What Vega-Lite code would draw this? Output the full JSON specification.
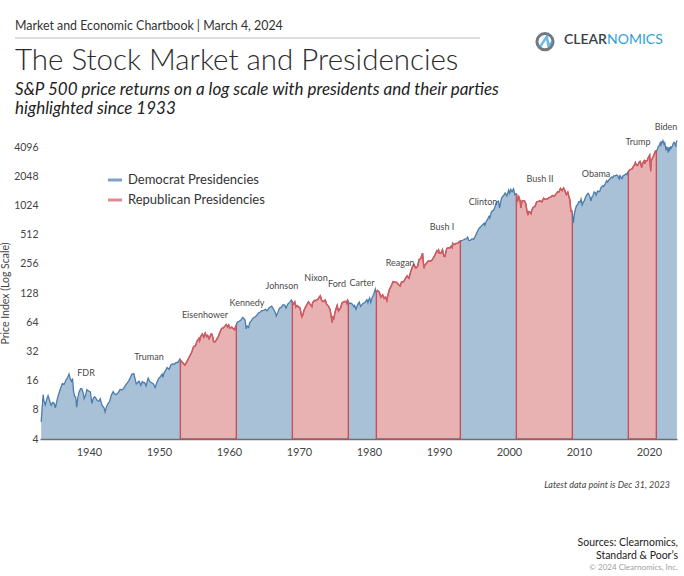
{
  "$schema": "https://vega.github.io/schema/vega-lite/v6.json",
  "width": 637,
  "height": 292,
  "autosize": "none",
  "padding": {"left": 40, "top": 147, "right": 7, "bottom": 137},
  "background": "white",
  "config": {
    "view": {"stroke": null},
    "font": "Lato",
    "text": {"font": "Lato"}
  },
  "datasets": {
    "sp": [
      {"t":1933.17,"v":6.0,"g":1,"p":"D"},{"t":1933.3,"v":8.2,"g":1,"p":"D"},{"t":1933.45,"v":11.5,"g":1,"p":"D"},{"t":1933.55,"v":10.0,"g":1,"p":"D"},{"t":1933.75,"v":9.0,"g":1,"p":"D"},
      {"t":1934.0,"v":10.5,"g":1,"p":"D"},{"t":1934.15,"v":11.2,"g":1,"p":"D"},{"t":1934.4,"v":9.8,"g":1,"p":"D"},{"t":1934.6,"v":8.9,"g":1,"p":"D"},{"t":1934.8,"v":9.5,"g":1,"p":"D"},
      {"t":1935.0,"v":9.4,"g":1,"p":"D"},{"t":1935.2,"v":8.4,"g":1,"p":"D"},{"t":1935.45,"v":10.2,"g":1,"p":"D"},{"t":1935.7,"v":11.8,"g":1,"p":"D"},{"t":1935.95,"v":13.4,"g":1,"p":"D"},
      {"t":1936.2,"v":14.9,"g":1,"p":"D"},{"t":1936.45,"v":14.6,"g":1,"p":"D"},{"t":1936.7,"v":16.2,"g":1,"p":"D"},{"t":1936.95,"v":17.2,"g":1,"p":"D"},
      {"t":1937.15,"v":18.7,"g":1,"p":"D"},{"t":1937.35,"v":16.4,"g":1,"p":"D"},{"t":1937.5,"v":15.7,"g":1,"p":"D"},{"t":1937.65,"v":16.8,"g":1,"p":"D"},{"t":1937.8,"v":12.3,"g":1,"p":"D"},{"t":1937.95,"v":11.0,"g":1,"p":"D"},
      {"t":1938.1,"v":10.8,"g":1,"p":"D"},{"t":1938.25,"v":8.5,"g":1,"p":"D"},{"t":1938.4,"v":10.6,"g":1,"p":"D"},{"t":1938.6,"v":12.3,"g":1,"p":"D"},{"t":1938.8,"v":13.2,"g":1,"p":"D"},{"t":1938.95,"v":13.2,"g":1,"p":"D"},
      {"t":1939.2,"v":11.8,"g":1,"p":"D"},{"t":1939.3,"v":10.4,"g":1,"p":"D"},{"t":1939.5,"v":11.2,"g":1,"p":"D"},{"t":1939.7,"v":12.9,"g":1,"p":"D"},{"t":1939.95,"v":12.5,"g":1,"p":"D"},
      {"t":1940.2,"v":12.2,"g":1,"p":"D"},{"t":1940.4,"v":9.3,"g":1,"p":"D"},{"t":1940.6,"v":10.5,"g":1,"p":"D"},{"t":1940.8,"v":10.9,"g":1,"p":"D"},{"t":1940.95,"v":10.6,"g":1,"p":"D"},
      {"t":1941.2,"v":9.9,"g":1,"p":"D"},{"t":1941.4,"v":9.8,"g":1,"p":"D"},{"t":1941.6,"v":10.4,"g":1,"p":"D"},{"t":1941.8,"v":9.2,"g":1,"p":"D"},{"t":1941.95,"v":8.7,"g":1,"p":"D"},
      {"t":1942.15,"v":8.4,"g":1,"p":"D"},{"t":1942.3,"v":7.6,"g":1,"p":"D"},{"t":1942.5,"v":8.6,"g":1,"p":"D"},{"t":1942.7,"v":9.2,"g":1,"p":"D"},{"t":1942.95,"v":9.8,"g":1,"p":"D"},
      {"t":1943.2,"v":11.4,"g":1,"p":"D"},{"t":1943.45,"v":12.3,"g":1,"p":"D"},{"t":1943.65,"v":11.6,"g":1,"p":"D"},{"t":1943.9,"v":11.5,"g":1,"p":"D"},
      {"t":1944.2,"v":12.1,"g":1,"p":"D"},{"t":1944.45,"v":13.0,"g":1,"p":"D"},{"t":1944.7,"v":12.8,"g":1,"p":"D"},{"t":1944.95,"v":13.3,"g":1,"p":"D"},
      {"t":1945.2,"v":14.3,"g":1,"p":"D"},{"t":1945.45,"v":15.1,"g":1,"p":"D"},{"t":1945.7,"v":16.0,"g":1,"p":"D"},{"t":1945.95,"v":17.4,"g":1,"p":"D"},
      {"t":1946.1,"v":18.6,"g":1,"p":"D"},{"t":1946.4,"v":18.9,"g":1,"p":"D"},{"t":1946.6,"v":16.5,"g":1,"p":"D"},{"t":1946.75,"v":14.8,"g":1,"p":"D"},{"t":1946.95,"v":15.3,"g":1,"p":"D"},
      {"t":1947.15,"v":15.8,"g":1,"p":"D"},{"t":1947.4,"v":14.3,"g":1,"p":"D"},{"t":1947.6,"v":15.6,"g":1,"p":"D"},{"t":1947.8,"v":15.2,"g":1,"p":"D"},{"t":1947.95,"v":15.3,"g":1,"p":"D"},
      {"t":1948.15,"v":14.1,"g":1,"p":"D"},{"t":1948.45,"v":17.0,"g":1,"p":"D"},{"t":1948.7,"v":15.6,"g":1,"p":"D"},{"t":1948.95,"v":15.2,"g":1,"p":"D"},
      {"t":1949.2,"v":14.8,"g":1,"p":"D"},{"t":1949.45,"v":13.6,"g":1,"p":"D"},{"t":1949.7,"v":15.4,"g":1,"p":"D"},{"t":1949.95,"v":16.8,"g":1,"p":"D"},
      {"t":1950.2,"v":17.6,"g":1,"p":"D"},{"t":1950.45,"v":18.7,"g":1,"p":"D"},{"t":1950.55,"v":17.3,"g":1,"p":"D"},{"t":1950.75,"v":19.5,"g":1,"p":"D"},{"t":1950.95,"v":20.4,"g":1,"p":"D"},
      {"t":1951.15,"v":21.8,"g":1,"p":"D"},{"t":1951.45,"v":20.9,"g":1,"p":"D"},{"t":1951.7,"v":23.3,"g":1,"p":"D"},{"t":1951.95,"v":23.8,"g":1,"p":"D"},
      {"t":1952.2,"v":23.6,"g":1,"p":"D"},{"t":1952.45,"v":24.7,"g":1,"p":"D"},{"t":1952.7,"v":24.6,"g":1,"p":"D"},{"t":1952.95,"v":26.6,"g":1,"p":"D"},{"t":1953.05,"v":26.2,"g":1,"p":"D"},

      {"t":1953.05,"v":26.2,"g":2,"p":"R"},{"t":1953.2,"v":25.3,"g":2,"p":"R"},{"t":1953.45,"v":24.2,"g":2,"p":"R"},{"t":1953.7,"v":23.1,"g":2,"p":"R"},{"t":1953.95,"v":24.8,"g":2,"p":"R"},
      {"t":1954.2,"v":26.9,"g":2,"p":"R"},{"t":1954.45,"v":29.2,"g":2,"p":"R"},{"t":1954.7,"v":31.7,"g":2,"p":"R"},{"t":1954.95,"v":35.9,"g":2,"p":"R"},
      {"t":1955.2,"v":36.6,"g":2,"p":"R"},{"t":1955.45,"v":41.0,"g":2,"p":"R"},{"t":1955.7,"v":43.6,"g":2,"p":"R"},{"t":1955.8,"v":41.2,"g":2,"p":"R"},{"t":1955.95,"v":45.5,"g":2,"p":"R"},
      {"t":1956.2,"v":48.5,"g":2,"p":"R"},{"t":1956.4,"v":44.9,"g":2,"p":"R"},{"t":1956.6,"v":49.4,"g":2,"p":"R"},{"t":1956.8,"v":45.6,"g":2,"p":"R"},{"t":1956.95,"v":46.7,"g":2,"p":"R"},
      {"t":1957.15,"v":43.3,"g":2,"p":"R"},{"t":1957.45,"v":48.5,"g":2,"p":"R"},{"t":1957.6,"v":47.9,"g":2,"p":"R"},{"t":1957.8,"v":40.4,"g":2,"p":"R"},{"t":1957.95,"v":39.9,"g":2,"p":"R"},
      {"t":1958.2,"v":42.1,"g":2,"p":"R"},{"t":1958.45,"v":45.2,"g":2,"p":"R"},{"t":1958.7,"v":50.1,"g":2,"p":"R"},{"t":1958.95,"v":55.2,"g":2,"p":"R"},
      {"t":1959.2,"v":56.0,"g":2,"p":"R"},{"t":1959.45,"v":58.6,"g":2,"p":"R"},{"t":1959.6,"v":60.5,"g":2,"p":"R"},{"t":1959.8,"v":57.0,"g":2,"p":"R"},{"t":1959.95,"v":59.9,"g":2,"p":"R"},
      {"t":1960.15,"v":55.6,"g":2,"p":"R"},{"t":1960.4,"v":56.9,"g":2,"p":"R"},{"t":1960.55,"v":55.5,"g":2,"p":"R"},{"t":1960.8,"v":53.4,"g":2,"p":"R"},{"t":1960.95,"v":58.1,"g":2,"p":"R"},{"t":1961.05,"v":59.8,"g":2,"p":"R"},

      {"t":1961.05,"v":59.8,"g":3,"p":"D"},{"t":1961.2,"v":64.3,"g":3,"p":"D"},{"t":1961.45,"v":65.4,"g":3,"p":"D"},{"t":1961.7,"v":67.3,"g":3,"p":"D"},{"t":1961.95,"v":71.6,"g":3,"p":"D"},
      {"t":1962.15,"v":69.9,"g":3,"p":"D"},{"t":1962.3,"v":67.0,"g":3,"p":"D"},{"t":1962.45,"v":54.7,"g":3,"p":"D"},{"t":1962.6,"v":58.5,"g":3,"p":"D"},{"t":1962.8,"v":56.5,"g":3,"p":"D"},{"t":1962.95,"v":63.1,"g":3,"p":"D"},
      {"t":1963.2,"v":66.6,"g":3,"p":"D"},{"t":1963.45,"v":70.8,"g":3,"p":"D"},{"t":1963.7,"v":72.3,"g":3,"p":"D"},{"t":1963.95,"v":75.0,"g":3,"p":"D"},
      {"t":1964.2,"v":79.5,"g":3,"p":"D"},{"t":1964.45,"v":81.6,"g":3,"p":"D"},{"t":1964.7,"v":84.2,"g":3,"p":"D"},{"t":1964.95,"v":84.8,"g":3,"p":"D"},
      {"t":1965.2,"v":87.0,"g":3,"p":"D"},{"t":1965.45,"v":84.1,"g":3,"p":"D"},{"t":1965.7,"v":89.9,"g":3,"p":"D"},{"t":1965.95,"v":92.4,"g":3,"p":"D"},
      {"t":1966.1,"v":93.8,"g":3,"p":"D"},{"t":1966.4,"v":86.1,"g":3,"p":"D"},{"t":1966.6,"v":81.0,"g":3,"p":"D"},{"t":1966.75,"v":74.5,"g":3,"p":"D"},{"t":1966.95,"v":80.3,"g":3,"p":"D"},
      {"t":1967.2,"v":89.1,"g":3,"p":"D"},{"t":1967.45,"v":91.0,"g":3,"p":"D"},{"t":1967.7,"v":96.7,"g":3,"p":"D"},{"t":1967.95,"v":96.5,"g":3,"p":"D"},
      {"t":1968.15,"v":89.4,"g":3,"p":"D"},{"t":1968.45,"v":99.6,"g":3,"p":"D"},{"t":1968.7,"v":103.0,"g":3,"p":"D"},{"t":1968.9,"v":108.4,"g":3,"p":"D"},{"t":1969.05,"v":102.5,"g":3,"p":"D"},

      {"t":1969.05,"v":102.5,"g":4,"p":"R"},{"t":1969.2,"v":98.1,"g":4,"p":"R"},{"t":1969.4,"v":103.5,"g":4,"p":"R"},{"t":1969.55,"v":91.8,"g":4,"p":"R"},{"t":1969.7,"v":95.0,"g":4,"p":"R"},{"t":1969.95,"v":92.1,"g":4,"p":"R"},
      {"t":1970.15,"v":89.5,"g":4,"p":"R"},{"t":1970.4,"v":72.7,"g":4,"p":"R"},{"t":1970.55,"v":75.6,"g":4,"p":"R"},{"t":1970.7,"v":84.3,"g":4,"p":"R"},{"t":1970.95,"v":92.2,"g":4,"p":"R"},
      {"t":1971.15,"v":98.0,"g":4,"p":"R"},{"t":1971.35,"v":104.0,"g":4,"p":"R"},{"t":1971.55,"v":99.0,"g":4,"p":"R"},{"t":1971.85,"v":92.8,"g":4,"p":"R"},{"t":1971.95,"v":102.1,"g":4,"p":"R"},
      {"t":1972.2,"v":107.2,"g":4,"p":"R"},{"t":1972.45,"v":107.1,"g":4,"p":"R"},{"t":1972.7,"v":110.6,"g":4,"p":"R"},{"t":1972.95,"v":118.1,"g":4,"p":"R"},
      {"t":1973.05,"v":119.9,"g":4,"p":"R"},{"t":1973.25,"v":106.9,"g":4,"p":"R"},{"t":1973.5,"v":104.3,"g":4,"p":"R"},{"t":1973.75,"v":108.4,"g":4,"p":"R"},{"t":1973.95,"v":97.6,"g":4,"p":"R"},
      {"t":1974.2,"v":93.9,"g":4,"p":"R"},{"t":1974.45,"v":86.0,"g":4,"p":"R"},{"t":1974.75,"v":63.5,"g":4,"p":"R"},{"t":1974.85,"v":73.9,"g":4,"p":"R"},{"t":1974.95,"v":68.6,"g":4,"p":"R"},
      {"t":1975.15,"v":81.6,"g":4,"p":"R"},{"t":1975.45,"v":95.2,"g":4,"p":"R"},{"t":1975.65,"v":83.3,"g":4,"p":"R"},{"t":1975.95,"v":90.2,"g":4,"p":"R"},
      {"t":1976.15,"v":101.0,"g":4,"p":"R"},{"t":1976.45,"v":104.3,"g":4,"p":"R"},{"t":1976.7,"v":105.2,"g":4,"p":"R"},{"t":1976.85,"v":100.0,"g":4,"p":"R"},{"t":1976.95,"v":107.5,"g":4,"p":"R"},{"t":1977.05,"v":104.2,"g":4,"p":"R"},

      {"t":1977.05,"v":104.2,"g":5,"p":"D"},{"t":1977.2,"v":99.8,"g":5,"p":"D"},{"t":1977.45,"v":100.5,"g":5,"p":"D"},{"t":1977.65,"v":97.6,"g":5,"p":"D"},{"t":1977.85,"v":92.3,"g":5,"p":"D"},{"t":1977.95,"v":95.1,"g":5,"p":"D"},
      {"t":1978.15,"v":87.0,"g":5,"p":"D"},{"t":1978.35,"v":96.0,"g":5,"p":"D"},{"t":1978.6,"v":103.3,"g":5,"p":"D"},{"t":1978.8,"v":93.2,"g":5,"p":"D"},{"t":1978.95,"v":96.1,"g":5,"p":"D"},
      {"t":1979.15,"v":99.9,"g":5,"p":"D"},{"t":1979.45,"v":102.9,"g":5,"p":"D"},{"t":1979.7,"v":109.3,"g":5,"p":"D"},{"t":1979.85,"v":101.8,"g":5,"p":"D"},{"t":1979.95,"v":107.9,"g":5,"p":"D"},
      {"t":1980.1,"v":114.2,"g":5,"p":"D"},{"t":1980.25,"v":102.1,"g":5,"p":"D"},{"t":1980.45,"v":114.2,"g":5,"p":"D"},{"t":1980.7,"v":125.5,"g":5,"p":"D"},{"t":1980.9,"v":140.5,"g":5,"p":"D"},{"t":1980.95,"v":135.8,"g":5,"p":"D"},{"t":1981.05,"v":129.6,"g":5,"p":"D"},

      {"t":1981.05,"v":129.6,"g":6,"p":"R"},{"t":1981.2,"v":136.0,"g":6,"p":"R"},{"t":1981.45,"v":131.2,"g":6,"p":"R"},{"t":1981.7,"v":116.2,"g":6,"p":"R"},{"t":1981.95,"v":122.6,"g":6,"p":"R"},
      {"t":1982.15,"v":113.1,"g":6,"p":"R"},{"t":1982.35,"v":116.4,"g":6,"p":"R"},{"t":1982.55,"v":107.1,"g":6,"p":"R"},{"t":1982.7,"v":122.4,"g":6,"p":"R"},{"t":1982.95,"v":140.6,"g":6,"p":"R"},
      {"t":1983.2,"v":152.9,"g":6,"p":"R"},{"t":1983.45,"v":168.1,"g":6,"p":"R"},{"t":1983.7,"v":166.1,"g":6,"p":"R"},{"t":1983.95,"v":164.9,"g":6,"p":"R"},
      {"t":1984.2,"v":157.1,"g":6,"p":"R"},{"t":1984.45,"v":150.6,"g":6,"p":"R"},{"t":1984.65,"v":166.7,"g":6,"p":"R"},{"t":1984.95,"v":167.2,"g":6,"p":"R"},
      {"t":1985.2,"v":181.0,"g":6,"p":"R"},{"t":1985.45,"v":191.9,"g":6,"p":"R"},{"t":1985.7,"v":182.1,"g":6,"p":"R"},{"t":1985.95,"v":211.3,"g":6,"p":"R"},
      {"t":1986.2,"v":238.9,"g":6,"p":"R"},{"t":1986.45,"v":250.8,"g":6,"p":"R"},{"t":1986.6,"v":236.1,"g":6,"p":"R"},{"t":1986.7,"v":231.3,"g":6,"p":"R"},{"t":1986.95,"v":242.2,"g":6,"p":"R"},
      {"t":1987.15,"v":284.2,"g":6,"p":"R"},{"t":1987.4,"v":290.1,"g":6,"p":"R"},{"t":1987.65,"v":329.8,"g":6,"p":"R"},{"t":1987.8,"v":251.8,"g":6,"p":"R"},{"t":1987.85,"v":230.3,"g":6,"p":"R"},{"t":1987.95,"v":247.1,"g":6,"p":"R"},
      {"t":1988.2,"v":258.9,"g":6,"p":"R"},{"t":1988.45,"v":273.5,"g":6,"p":"R"},{"t":1988.7,"v":271.9,"g":6,"p":"R"},{"t":1988.95,"v":277.7,"g":6,"p":"R"},
      {"t":1989.2,"v":294.9,"g":6,"p":"R"},{"t":1989.45,"v":317.9,"g":6,"p":"R"},{"t":1989.7,"v":349.2,"g":6,"p":"R"},{"t":1989.85,"v":340.4,"g":6,"p":"R"},{"t":1989.95,"v":353.4,"g":6,"p":"R"},
      {"t":1990.05,"v":329.1,"g":6,"p":"R"},{"t":1990.3,"v":330.8,"g":6,"p":"R"},{"t":1990.5,"v":358.0,"g":6,"p":"R"},{"t":1990.7,"v":306.1,"g":6,"p":"R"},{"t":1990.85,"v":304.0,"g":6,"p":"R"},{"t":1990.95,"v":330.2,"g":6,"p":"R"},
      {"t":1991.1,"v":367.1,"g":6,"p":"R"},{"t":1991.3,"v":375.2,"g":6,"p":"R"},{"t":1991.5,"v":371.2,"g":6,"p":"R"},{"t":1991.75,"v":389.0,"g":6,"p":"R"},{"t":1991.9,"v":375.2,"g":6,"p":"R"},{"t":1991.95,"v":417.1,"g":6,"p":"R"},
      {"t":1992.2,"v":403.7,"g":6,"p":"R"},{"t":1992.45,"v":415.4,"g":6,"p":"R"},{"t":1992.7,"v":418.7,"g":6,"p":"R"},{"t":1992.95,"v":435.7,"g":6,"p":"R"},{"t":1993.05,"v":438.8,"g":6,"p":"R"},

      {"t":1993.05,"v":438.8,"g":7,"p":"D"},{"t":1993.2,"v":443.4,"g":7,"p":"D"},{"t":1993.45,"v":450.2,"g":7,"p":"D"},{"t":1993.7,"v":458.9,"g":7,"p":"D"},{"t":1993.95,"v":466.5,"g":7,"p":"D"},
      {"t":1994.1,"v":481.6,"g":7,"p":"D"},{"t":1994.25,"v":445.8,"g":7,"p":"D"},{"t":1994.45,"v":444.3,"g":7,"p":"D"},{"t":1994.7,"v":462.7,"g":7,"p":"D"},{"t":1994.95,"v":459.3,"g":7,"p":"D"},
      {"t":1995.15,"v":487.4,"g":7,"p":"D"},{"t":1995.4,"v":533.4,"g":7,"p":"D"},{"t":1995.65,"v":584.4,"g":7,"p":"D"},{"t":1995.95,"v":615.9,"g":7,"p":"D"},
      {"t":1996.2,"v":645.5,"g":7,"p":"D"},{"t":1996.45,"v":670.6,"g":7,"p":"D"},{"t":1996.55,"v":639.9,"g":7,"p":"D"},{"t":1996.7,"v":687.3,"g":7,"p":"D"},{"t":1996.95,"v":740.7,"g":7,"p":"D"},
      {"t":1997.15,"v":790.8,"g":7,"p":"D"},{"t":1997.25,"v":757.1,"g":7,"p":"D"},{"t":1997.5,"v":885.1,"g":7,"p":"D"},{"t":1997.65,"v":899.5,"g":7,"p":"D"},{"t":1997.8,"v":914.6,"g":7,"p":"D"},{"t":1997.95,"v":970.4,"g":7,"p":"D"},
      {"t":1998.2,"v":1101.8,"g":7,"p":"D"},{"t":1998.5,"v":1133.8,"g":7,"p":"D"},{"t":1998.65,"v":957.3,"g":7,"p":"D"},{"t":1998.8,"v":1098.7,"g":7,"p":"D"},{"t":1998.95,"v":1229.2,"g":7,"p":"D"},
      {"t":1999.2,"v":1286.4,"g":7,"p":"D"},{"t":1999.45,"v":1372.7,"g":7,"p":"D"},{"t":1999.7,"v":1282.7,"g":7,"p":"D"},{"t":1999.85,"v":1388.9,"g":7,"p":"D"},{"t":1999.95,"v":1469.3,"g":7,"p":"D"},
      {"t":2000.1,"v":1366.4,"g":7,"p":"D"},{"t":2000.25,"v":1498.6,"g":7,"p":"D"},{"t":2000.45,"v":1420.6,"g":7,"p":"D"},{"t":2000.65,"v":1517.7,"g":7,"p":"D"},{"t":2000.85,"v":1315.2,"g":7,"p":"D"},{"t":2000.95,"v":1320.3,"g":7,"p":"D"},{"t":2001.05,"v":1366.0,"g":7,"p":"D"},

      {"t":2001.05,"v":1366.0,"g":8,"p":"R"},{"t":2001.15,"v":1239.9,"g":8,"p":"R"},{"t":2001.25,"v":1160.3,"g":8,"p":"R"},{"t":2001.4,"v":1255.8,"g":8,"p":"R"},{"t":2001.6,"v":1133.6,"g":8,"p":"R"},{"t":2001.7,"v":965.8,"g":8,"p":"R"},{"t":2001.85,"v":1139.5,"g":8,"p":"R"},{"t":2001.95,"v":1148.1,"g":8,"p":"R"},
      {"t":2002.2,"v":1147.4,"g":8,"p":"R"},{"t":2002.4,"v":1067.1,"g":8,"p":"R"},{"t":2002.55,"v":911.6,"g":8,"p":"R"},{"t":2002.7,"v":815.3,"g":8,"p":"R"},{"t":2002.8,"v":885.8,"g":8,"p":"R"},{"t":2002.95,"v":879.8,"g":8,"p":"R"},
      {"t":2003.15,"v":841.2,"g":8,"p":"R"},{"t":2003.25,"v":916.9,"g":8,"p":"R"},{"t":2003.45,"v":974.5,"g":8,"p":"R"},{"t":2003.7,"v":995.9,"g":8,"p":"R"},{"t":2003.95,"v":1111.9,"g":8,"p":"R"},
      {"t":2004.2,"v":1126.2,"g":8,"p":"R"},{"t":2004.45,"v":1140.8,"g":8,"p":"R"},{"t":2004.7,"v":1114.6,"g":8,"p":"R"},{"t":2004.95,"v":1211.9,"g":8,"p":"R"},
      {"t":2005.2,"v":1180.6,"g":8,"p":"R"},{"t":2005.45,"v":1191.3,"g":8,"p":"R"},{"t":2005.7,"v":1228.8,"g":8,"p":"R"},{"t":2005.95,"v":1248.3,"g":8,"p":"R"},
      {"t":2006.2,"v":1294.8,"g":8,"p":"R"},{"t":2006.45,"v":1270.2,"g":8,"p":"R"},{"t":2006.7,"v":1335.9,"g":8,"p":"R"},{"t":2006.95,"v":1418.3,"g":8,"p":"R"},
      {"t":2007.15,"v":1406.8,"g":8,"p":"R"},{"t":2007.35,"v":1530.6,"g":8,"p":"R"},{"t":2007.6,"v":1455.3,"g":8,"p":"R"},{"t":2007.8,"v":1549.4,"g":8,"p":"R"},{"t":2007.95,"v":1468.4,"g":8,"p":"R"},
      {"t":2008.2,"v":1322.7,"g":8,"p":"R"},{"t":2008.4,"v":1400.4,"g":8,"p":"R"},{"t":2008.55,"v":1267.4,"g":8,"p":"R"},{"t":2008.7,"v":1164.7,"g":8,"p":"R"},{"t":2008.8,"v":968.8,"g":8,"p":"R"},{"t":2008.85,"v":896.2,"g":8,"p":"R"},{"t":2008.95,"v":903.3,"g":8,"p":"R"},{"t":2009.05,"v":850.0,"g":8,"p":"R"},

      {"t":2009.05,"v":850.0,"g":9,"p":"D"},{"t":2009.12,"v":735.1,"g":9,"p":"D"},{"t":2009.2,"v":676.5,"g":9,"p":"D"},{"t":2009.3,"v":797.9,"g":9,"p":"D"},{"t":2009.45,"v":919.1,"g":9,"p":"D"},{"t":2009.65,"v":1020.6,"g":9,"p":"D"},{"t":2009.8,"v":1036.2,"g":9,"p":"D"},{"t":2009.95,"v":1115.1,"g":9,"p":"D"},
      {"t":2010.15,"v":1104.5,"g":9,"p":"D"},{"t":2010.3,"v":1186.7,"g":9,"p":"D"},{"t":2010.45,"v":1030.7,"g":9,"p":"D"},{"t":2010.6,"v":1101.6,"g":9,"p":"D"},{"t":2010.75,"v":1141.2,"g":9,"p":"D"},{"t":2010.95,"v":1257.6,"g":9,"p":"D"},
      {"t":2011.15,"v":1327.2,"g":9,"p":"D"},{"t":2011.3,"v":1363.6,"g":9,"p":"D"},{"t":2011.45,"v":1320.6,"g":9,"p":"D"},{"t":2011.6,"v":1218.9,"g":9,"p":"D"},{"t":2011.7,"v":1131.4,"g":9,"p":"D"},{"t":2011.85,"v":1253.3,"g":9,"p":"D"},{"t":2011.95,"v":1257.6,"g":9,"p":"D"},
      {"t":2012.15,"v":1408.5,"g":9,"p":"D"},{"t":2012.3,"v":1397.9,"g":9,"p":"D"},{"t":2012.45,"v":1310.3,"g":9,"p":"D"},{"t":2012.65,"v":1440.7,"g":9,"p":"D"},{"t":2012.85,"v":1416.2,"g":9,"p":"D"},{"t":2012.95,"v":1426.2,"g":9,"p":"D"},
      {"t":2013.15,"v":1569.2,"g":9,"p":"D"},{"t":2013.4,"v":1630.7,"g":9,"p":"D"},{"t":2013.5,"v":1606.3,"g":9,"p":"D"},{"t":2013.7,"v":1681.6,"g":9,"p":"D"},{"t":2013.95,"v":1848.4,"g":9,"p":"D"},
      {"t":2014.1,"v":1782.6,"g":9,"p":"D"},{"t":2014.3,"v":1883.9,"g":9,"p":"D"},{"t":2014.5,"v":1960.2,"g":9,"p":"D"},{"t":2014.7,"v":2003.4,"g":9,"p":"D"},{"t":2014.8,"v":1972.3,"g":9,"p":"D"},{"t":2014.95,"v":2058.9,"g":9,"p":"D"},
      {"t":2015.15,"v":2067.9,"g":9,"p":"D"},{"t":2015.4,"v":2107.4,"g":9,"p":"D"},{"t":2015.55,"v":2063.1,"g":9,"p":"D"},{"t":2015.65,"v":1972.2,"g":9,"p":"D"},{"t":2015.75,"v":1920.0,"g":9,"p":"D"},{"t":2015.85,"v":2079.4,"g":9,"p":"D"},{"t":2015.95,"v":2043.9,"g":9,"p":"D"},
      {"t":2016.1,"v":1940.2,"g":9,"p":"D"},{"t":2016.15,"v":1932.2,"g":9,"p":"D"},{"t":2016.3,"v":2065.3,"g":9,"p":"D"},{"t":2016.5,"v":2098.9,"g":9,"p":"D"},{"t":2016.7,"v":2168.3,"g":9,"p":"D"},{"t":2016.85,"v":2126.2,"g":9,"p":"D"},{"t":2016.95,"v":2238.8,"g":9,"p":"D"},{"t":2017.05,"v":2278.9,"g":9,"p":"D"},

      {"t":2017.05,"v":2278.9,"g":10,"p":"R"},{"t":2017.2,"v":2363.6,"g":10,"p":"R"},{"t":2017.4,"v":2411.8,"g":10,"p":"R"},{"t":2017.55,"v":2423.4,"g":10,"p":"R"},{"t":2017.7,"v":2519.4,"g":10,"p":"R"},{"t":2017.85,"v":2647.6,"g":10,"p":"R"},{"t":2017.95,"v":2673.6,"g":10,"p":"R"},
      {"t":2018.05,"v":2823.8,"g":10,"p":"R"},{"t":2018.15,"v":2713.8,"g":10,"p":"R"},{"t":2018.3,"v":2640.9,"g":10,"p":"R"},{"t":2018.45,"v":2705.3,"g":10,"p":"R"},{"t":2018.65,"v":2901.5,"g":10,"p":"R"},{"t":2018.75,"v":2913.9,"g":10,"p":"R"},{"t":2018.85,"v":2711.7,"g":10,"p":"R"},{"t":2018.95,"v":2506.9,"g":10,"p":"R"},
      {"t":2019.1,"v":2784.5,"g":10,"p":"R"},{"t":2019.3,"v":2945.8,"g":10,"p":"R"},{"t":2019.4,"v":2752.1,"g":10,"p":"R"},{"t":2019.5,"v":2941.8,"g":10,"p":"R"},{"t":2019.6,"v":2926.5,"g":10,"p":"R"},{"t":2019.75,"v":2976.7,"g":10,"p":"R"},{"t":2019.85,"v":3140.9,"g":10,"p":"R"},{"t":2019.95,"v":3230.8,"g":10,"p":"R"},
      {"t":2020.1,"v":3380.0,"g":10,"p":"R"},{"t":2020.2,"v":2584.6,"g":10,"p":"R"},{"t":2020.25,"v":2300.0,"g":10,"p":"R"},{"t":2020.3,"v":2912.4,"g":10,"p":"R"},{"t":2020.45,"v":3100.3,"g":10,"p":"R"},{"t":2020.6,"v":3271.1,"g":10,"p":"R"},{"t":2020.7,"v":3363.0,"g":10,"p":"R"},{"t":2020.85,"v":3621.6,"g":10,"p":"R"},{"t":2020.95,"v":3756.1,"g":10,"p":"R"},{"t":2021.05,"v":3750.0,"g":10,"p":"R"},

      {"t":2021.05,"v":3750.0,"g":11,"p":"D"},{"t":2021.15,"v":3811.2,"g":11,"p":"D"},{"t":2021.25,"v":3972.9,"g":11,"p":"D"},{"t":2021.35,"v":4181.2,"g":11,"p":"D"},{"t":2021.45,"v":4204.1,"g":11,"p":"D"},{"t":2021.5,"v":4297.5,"g":11,"p":"D"},{"t":2021.6,"v":4522.7,"g":11,"p":"D"},{"t":2021.7,"v":4307.5,"g":11,"p":"D"},{"t":2021.8,"v":4605.4,"g":11,"p":"D"},{"t":2021.9,"v":4567.0,"g":11,"p":"D"},{"t":2021.99,"v":4766.2,"g":11,"p":"D"},
      {"t":2022.08,"v":4515.6,"g":11,"p":"D"},{"t":2022.15,"v":4373.9,"g":11,"p":"D"},{"t":2022.25,"v":4530.4,"g":11,"p":"D"},{"t":2022.35,"v":4131.9,"g":11,"p":"D"},{"t":2022.45,"v":3785.4,"g":11,"p":"D"},{"t":2022.55,"v":4130.3,"g":11,"p":"D"},{"t":2022.62,"v":3955.0,"g":11,"p":"D"},{"t":2022.75,"v":3585.6,"g":11,"p":"D"},{"t":2022.85,"v":4080.1,"g":11,"p":"D"},{"t":2022.95,"v":3839.5,"g":11,"p":"D"},
      {"t":2023.08,"v":4076.6,"g":11,"p":"D"},{"t":2023.15,"v":3970.2,"g":11,"p":"D"},{"t":2023.25,"v":4109.3,"g":11,"p":"D"},{"t":2023.35,"v":4179.8,"g":11,"p":"D"},{"t":2023.45,"v":4450.4,"g":11,"p":"D"},{"t":2023.58,"v":4588.9,"g":11,"p":"D"},{"t":2023.67,"v":4507.7,"g":11,"p":"D"},{"t":2023.75,"v":4288.1,"g":11,"p":"D"},{"t":2023.83,"v":4193.8,"g":11,"p":"D"},{"t":2023.9,"v":4567.8,"g":11,"p":"D"},{"t":2023.99,"v":4769.8,"g":11,"p":"D"}
    ],
    "pres": [
      {"n":"FDR","t":1939.57,"v":19.3},{"n":"Truman","t":1948.57,"v":28.2},{"n":"Eisenhower","t":1956.57,"v":76.5},
      {"n":"Kennedy","t":1962.57,"v":101.7},{"n":"Johnson","t":1967.57,"v":152},{"n":"Nixon","t":1972.43,"v":184},
      {"n":"Ford","t":1975.43,"v":159.6},{"n":"Carter","t":1979.0,"v":163.5},{"n":"Reagan","t":1984.43,"v":263},
      {"n":"Bush I","t":1990.43,"v":618},{"n":"Clinton","t":1996.29,"v":1118},{"n":"Bush II","t":2004.43,"v":1930},
      {"n":"Obama","t":2012.43,"v":2174},{"n":"Trump","t":2018.43,"v":4645},{"n":"Biden","t":2022.43,"v":6632}
    ]
  },
  "layer": [
    {
      "data": {"name": "sp"},
      "mark": {"type": "area", "opacity": 1},
      "encoding": {
        "x": {
          "field": "t", "type": "quantitative",
          "scale": {"domain": [1933, 2024], "nice": false, "zero": false},
          "axis": {
            "title": null, "values": [1940, 1950, 1960, 1970, 1980, 1990, 2000, 2010, 2020],
            "format": "d", "grid": false, "ticks": false, "labelFontSize": 11, "labelColor": "#444",
            "labelPadding": 7, "domainColor": "#6b6f78", "domainWidth": 1.5, "zindex": 1
          }
        },
        "y": {
          "field": "v", "type": "quantitative",
          "scale": {"type": "log", "base": 2, "domain": [4, 4096], "nice": false},
          "axis": {
            "title": "Price Index (Log Scale)", "values": [4, 8, 16, 32, 64, 128, 256, 512, 1024, 2048, 4096],
            "format": "d", "grid": false, "ticks": false, "domain": false, "labelFontSize": 10.5,
            "labelColor": "#444", "labelPadding": 2, "titleFontSize": 10.5, "titleFontWeight": "normal",
            "titleColor": "#444", "titlePadding": 3
          }
        },
        "y2": {"datum": 4},
        "detail": {"field": "g"},
        "fill": {
          "field": "p", "type": "nominal",
          "scale": {"domain": ["D", "R"], "range": ["#a9c1d6", "#e8b1b2"]},
          "legend": {
            "title": null, "orient": "none", "legendX": 66, "legendY": 24, "padding": 0,
            "symbolType": "stroke", "symbolStrokeWidth": 3, "symbolSize": 200, "symbolOpacity": 0.7,
            "labelFontSize": 13, "labelColor": "#333", "labelOffset": 4, "rowPadding": 4,
            "labelExpr": "datum.label == 'D' ? 'Democrat Presidencies' : 'Republican Presidencies'"
          }
        }
      }
    },
    {
      "data": {"name": "sp"},
      "transform": [{"filter": "datum.p == 'R'"}],
      "mark": {"type": "area", "fillOpacity": 0, "stroke": "#c0545d", "strokeWidth": 1.4},
      "encoding": {
        "x": {"field": "t", "type": "quantitative"},
        "y": {"field": "v", "type": "quantitative"},
        "y2": {"datum": 4},
        "detail": {"field": "g"}
      }
    },
    {
      "data": {"name": "sp"},
      "mark": {"type": "line", "strokeWidth": 1.3},
      "encoding": {
        "x": {"field": "t", "type": "quantitative"},
        "y": {"field": "v", "type": "quantitative"},
        "detail": {"field": "g"},
        "stroke": {
          "field": "p", "type": "nominal",
          "scale": {"domain": ["D", "R"], "range": ["#4b7cad", "#cf5b63"]},
          "legend": {
            "title": null, "orient": "none", "legendX": 66, "legendY": 24, "padding": 0,
            "symbolType": "stroke", "symbolStrokeWidth": 3, "symbolSize": 200, "symbolOpacity": 0.7,
            "labelFontSize": 13, "labelColor": "#333", "labelOffset": 4, "rowPadding": 4,
            "labelExpr": "datum.label == 'D' ? 'Democrat Presidencies' : 'Republican Presidencies'"
          }
        }
      }
    },
    {
      "data": {"name": "pres"},
      "mark": {"type": "text", "fontSize": 9, "color": "#4a4a4a", "baseline": "middle", "align": "center"},
      "encoding": {
        "x": {"field": "t", "type": "quantitative"},
        "y": {"field": "v", "type": "quantitative"},
        "text": {"field": "n"}
      }
    },
    {
      "data": {"values": [{}]},
      "mark": {"type": "text", "text": "Market and Economic Chartbook | March 4, 2024", "fontSize": 12.4, "color": "#333", "align": "left", "baseline": "middle"},
      "encoding": {"x": {"datum": 1929.43, "type": "quantitative"}, "y": {"datum": 71700, "type": "quantitative"}}
    },
    {
      "data": {"values": [{}]},
      "mark": {"type": "rule", "color": "#bbbbbb", "strokeWidth": 1},
      "encoding": {
        "x": {"datum": 1929.43, "type": "quantitative"}, "x2": {"datum": 1995.86},
        "y": {"datum": 54460, "type": "quantitative"}
      }
    },
    {
      "data": {"values": [{}]},
      "mark": {"type": "text", "text": "The Stock Market and Presidencies", "fontSize": 29.5, "fontWeight": 300, "color": "#2b2b2b", "align": "left", "baseline": "middle"},
      "encoding": {"x": {"datum": 1929.43, "type": "quantitative"}, "y": {"datum": 31500, "type": "quantitative"}}
    },
    {
      "data": {"values": [{}]},
      "mark": {"type": "text", "text": "S&P 500 price returns on a log scale with presidents and their parties", "fontSize": 17, "fontStyle": "italic", "color": "#222", "align": "left", "baseline": "middle"},
      "encoding": {"x": {"datum": 1929.43, "type": "quantitative"}, "y": {"datum": 15770, "type": "quantitative"}}
    },
    {
      "data": {"values": [{}]},
      "mark": {"type": "text", "text": "highlighted since 1933", "fontSize": 17, "fontStyle": "italic", "color": "#222", "align": "left", "baseline": "middle"},
      "encoding": {"x": {"datum": 1929.43, "type": "quantitative"}, "y": {"datum": 10050, "type": "quantitative"}}
    },
    {
      "data": {"values": [{}]},
      "mark": {"type": "point", "filled": false, "shape": "circle", "size": 260, "stroke": "#3a3f47", "strokeWidth": 3},
      "encoding": {"x": {"datum": 2005.14, "type": "quantitative"}, "y": {"datum": 49900, "type": "quantitative"}}
    },
    {
      "data": {"values": [{}]},
      "mark": {"type": "point", "filled": false, "shape": "M-0.9,0.8L0.1,-0.7L0.3,0.5L0.9,0", "size": 220, "stroke": "#2f9fd8", "strokeWidth": 2.5},
      "encoding": {"x": {"datum": 2005.3, "type": "quantitative"}, "y": {"datum": 49900, "type": "quantitative"}}
    },
    {
      "data": {"values": [{}]},
      "mark": {"type": "text", "text": "CLEAR", "fontSize": 14, "fontWeight": 600, "color": "#3a3f47", "align": "right", "baseline": "middle"},
      "encoding": {"x": {"datum": 2014.0, "type": "quantitative"}, "y": {"datum": 52300, "type": "quantitative"}}
    },
    {
      "data": {"values": [{}]},
      "mark": {"type": "text", "text": "NOMICS", "fontSize": 14, "color": "#2f9fd8", "align": "left", "baseline": "middle"},
      "encoding": {"x": {"datum": 2014.0, "type": "quantitative"}, "y": {"datum": 52300, "type": "quantitative"}}
    },
    {
      "data": {"values": [{}]},
      "mark": {"type": "text", "text": "Latest data point is Dec 31, 2023", "fontSize": 9, "fontStyle": "italic", "color": "#444", "align": "right", "baseline": "middle"},
      "encoding": {"x": {"datum": 2023.0, "type": "quantitative"}, "y": {"datum": 1.352, "type": "quantitative"}}
    },
    {
      "data": {"values": [{}]},
      "mark": {"type": "text", "text": "Sources: Clearnomics,", "fontSize": 10.5, "color": "#222", "align": "right", "baseline": "middle"},
      "encoding": {"x": {"datum": 2024.14, "type": "quantitative"}, "y": {"datum": 0.341, "type": "quantitative"}}
    },
    {
      "data": {"values": [{}]},
      "mark": {"type": "text", "text": "Standard & Poor’s", "fontSize": 10.5, "color": "#222", "align": "right", "baseline": "middle"},
      "encoding": {"x": {"datum": 2024.14, "type": "quantitative"}, "y": {"datum": 0.2505, "type": "quantitative"}}
    },
    {
      "data": {"values": [{}]},
      "mark": {"type": "text", "text": "© 2024 Clearnomics, Inc.", "fontSize": 8, "color": "#a0a0a0", "align": "right", "baseline": "middle"},
      "encoding": {"x": {"datum": 2024.14, "type": "quantitative"}, "y": {"datum": 0.188, "type": "quantitative"}}
    }
  ]
}
